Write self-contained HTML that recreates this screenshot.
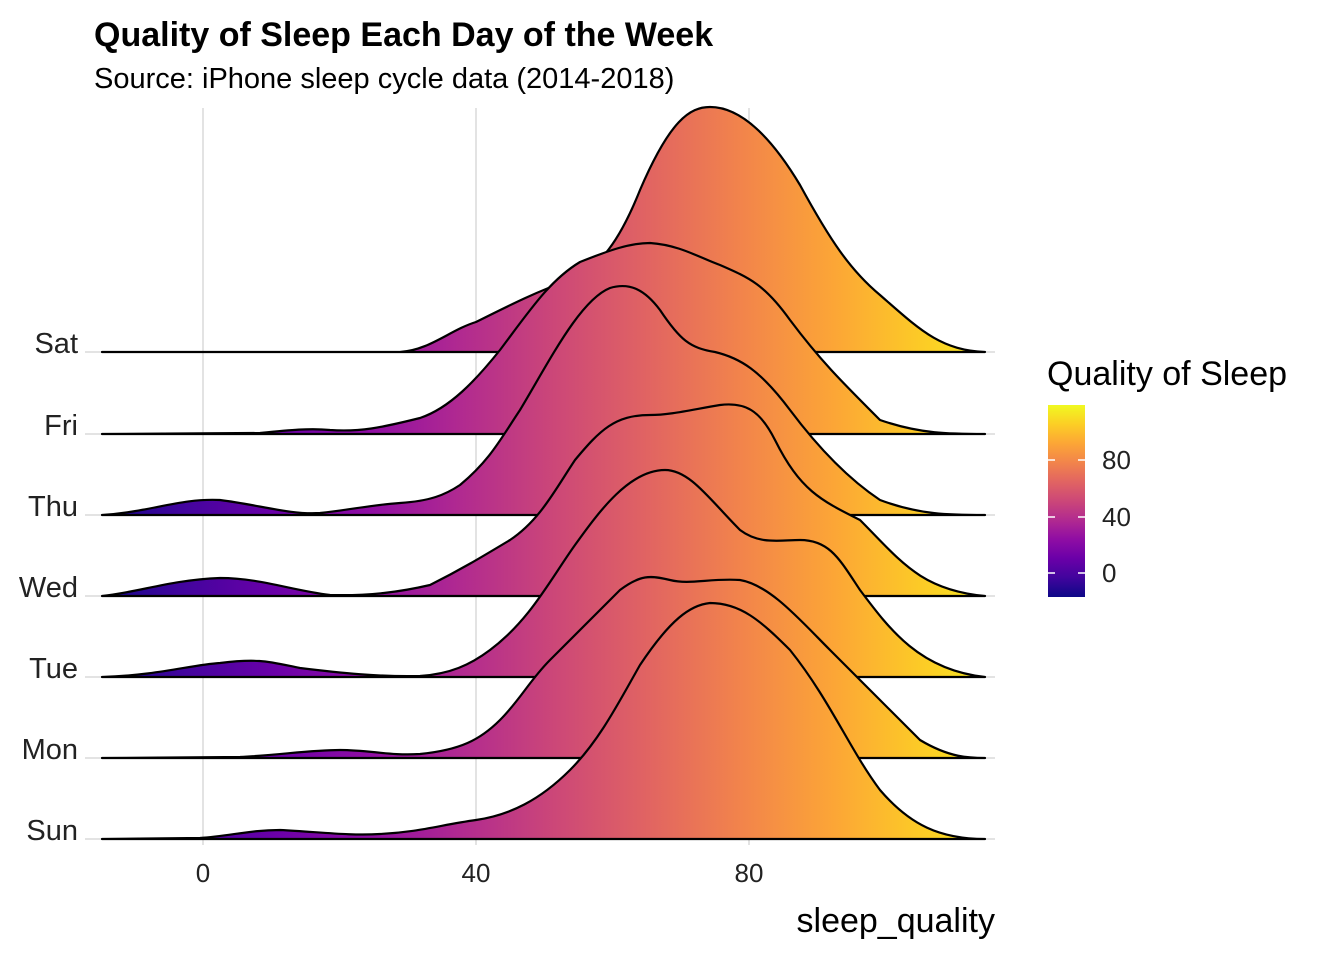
<!DOCTYPE html>
<html><head><meta charset="utf-8"><style>
html,body{margin:0;padding:0;background:#fff;}
svg{display:block;font-family:"Liberation Sans",Arial,sans-serif;}
</style></head><body>
<svg width="1344" height="960" viewBox="0 0 1344 960" xmlns="http://www.w3.org/2000/svg">
<defs>
<linearGradient id="pl" gradientUnits="userSpaceOnUse" x1="87" y1="0" x2="1022" y2="0">
<stop offset="0" stop-color="#0d0887"/><stop offset="0.1" stop-color="#41049d"/><stop offset="0.2" stop-color="#6a00a8"/><stop offset="0.3" stop-color="#8f0da4"/><stop offset="0.4" stop-color="#b12a90"/><stop offset="0.5" stop-color="#cc4778"/><stop offset="0.6" stop-color="#e16462"/><stop offset="0.7" stop-color="#f2844b"/><stop offset="0.8" stop-color="#fca636"/><stop offset="0.9" stop-color="#fcce25"/><stop offset="1" stop-color="#f0f921"/>
</linearGradient>
<linearGradient id="lg" x1="0" y1="1" x2="0" y2="0">
<stop offset="0" stop-color="#0d0887"/><stop offset="0.1" stop-color="#41049d"/><stop offset="0.2" stop-color="#6a00a8"/><stop offset="0.3" stop-color="#8f0da4"/><stop offset="0.4" stop-color="#b12a90"/><stop offset="0.5" stop-color="#cc4778"/><stop offset="0.6" stop-color="#e16462"/><stop offset="0.7" stop-color="#f2844b"/><stop offset="0.8" stop-color="#fca636"/><stop offset="0.9" stop-color="#fcce25"/><stop offset="1" stop-color="#f0f921"/>
</linearGradient>
</defs>
<g stroke="#e3e3e3" stroke-width="2">
<line x1="203" y1="108" x2="203" y2="845"/><line x1="476" y1="108" x2="476" y2="845"/><line x1="749" y1="108" x2="749" y2="845"/>
<line x1="85" y1="352" x2="995" y2="352"/><line x1="85" y1="434" x2="995" y2="434"/><line x1="85" y1="515" x2="995" y2="515"/><line x1="85" y1="596" x2="995" y2="596"/><line x1="85" y1="677" x2="995" y2="677"/><line x1="85" y1="758" x2="995" y2="758"/><line x1="85" y1="839" x2="995" y2="839"/>
</g>
<g fill="url(#pl)" stroke="#000" stroke-width="2.2" stroke-linejoin="round">
<path d="M102,352 L400,352 C430,350 450,330 476,322 C510,305 540,290 570,280 C600,268 620,240 640,190 C670,120 690,107 710,107 C740,107 770,135 800,185 C830,240 850,270 880,295 C920,330 940,350 985,352 Z"/>
<path d="M102,434 L260,433 C290,430 310,428 330,430 C360,432 380,428 420,418 C450,408 476,380 500,350 C530,310 550,280 580,262 C610,250 630,243 650,243 C680,245 700,258 720,265 C750,278 765,285 790,320 C820,360 840,380 880,420 C920,434 950,434 985,434 Z"/>
<path d="M102,515 C150,512 180,498 220,500 C260,505 290,515 320,513 C350,510 370,505 400,503 C430,501 445,495 460,485 C490,460 500,440 520,410 C550,360 580,300 610,288 C630,282 645,290 660,310 C680,340 690,348 715,352 C740,358 760,370 790,410 C820,450 850,480 880,500 C920,515 950,515 985,515 Z"/>
<path d="M102,596 C140,592 170,580 220,578 C260,578 290,590 330,595 C370,596 400,592 430,585 C460,570 480,558 510,540 C540,520 555,490 575,460 C600,430 615,415 650,415 C670,415 690,410 720,405 C745,402 760,410 775,440 C800,490 820,500 860,520 C900,560 920,590 985,596 Z"/>
<path d="M102,677 C160,675 190,665 220,663 C260,658 270,662 300,668 C340,673 380,677 420,676 C450,674 470,665 490,650 C530,620 550,580 575,545 C600,510 630,470 665,470 C690,470 710,500 740,530 C760,545 780,540 800,540 C830,540 840,560 860,590 C890,630 920,670 985,677 Z"/>
<path d="M102,758 L240,757 C280,755 310,750 340,750 C370,750 390,756 420,754 C460,750 480,740 500,720 C520,700 530,680 550,660 C580,630 600,610 620,590 C640,575 650,575 670,580 C690,585 710,578 740,580 C770,585 800,620 830,650 C870,690 900,720 920,740 C950,758 970,758 985,758 Z"/>
<path d="M102,839 L200,838 C230,836 250,830 280,830 C320,832 350,836 380,834 C420,832 440,825 476,820 C510,815 540,800 570,770 C600,740 620,700 640,665 C670,620 690,605 710,603 C740,603 760,620 790,650 C830,700 850,750 880,790 C910,825 940,839 985,839 Z"/>
</g>
<g font-size="29" fill="#222" text-anchor="end">
<text x="78" y="353">Sat</text><text x="78" y="435">Fri</text><text x="78" y="516">Thu</text><text x="78" y="597">Wed</text><text x="78" y="678">Tue</text><text x="78" y="759">Mon</text><text x="78" y="840">Sun</text>
</g>
<g font-size="26" fill="#222" text-anchor="middle">
<text x="203" y="882">0</text><text x="476" y="882">40</text><text x="749" y="882">80</text>
</g>
<text x="995" y="932" font-size="34" text-anchor="end" fill="#000">sleep_quality</text>
<text x="94" y="46" font-size="34" font-weight="bold" fill="#000">Quality of Sleep Each Day of the Week</text>
<text x="94" y="88" font-size="29" fill="#000">Source: iPhone sleep cycle data (2014-2018)</text>
<text x="1047" y="385" font-size="34" fill="#000">Quality of Sleep</text>
<rect x="1048" y="405" width="37" height="192" fill="url(#lg)"/>
<g stroke="#fff" stroke-width="1.5">
<line x1="1048" y1="573" x2="1055" y2="573"/><line x1="1078" y1="573" x2="1085" y2="573"/>
<line x1="1048" y1="517" x2="1055" y2="517"/><line x1="1078" y1="517" x2="1085" y2="517"/>
<line x1="1048" y1="460" x2="1055" y2="460"/><line x1="1078" y1="460" x2="1085" y2="460"/>
</g>
<g font-size="26" fill="#222">
<text x="1102" y="582">0</text><text x="1102" y="526">40</text><text x="1102" y="469">80</text>
</g>
</svg>
</body></html>
